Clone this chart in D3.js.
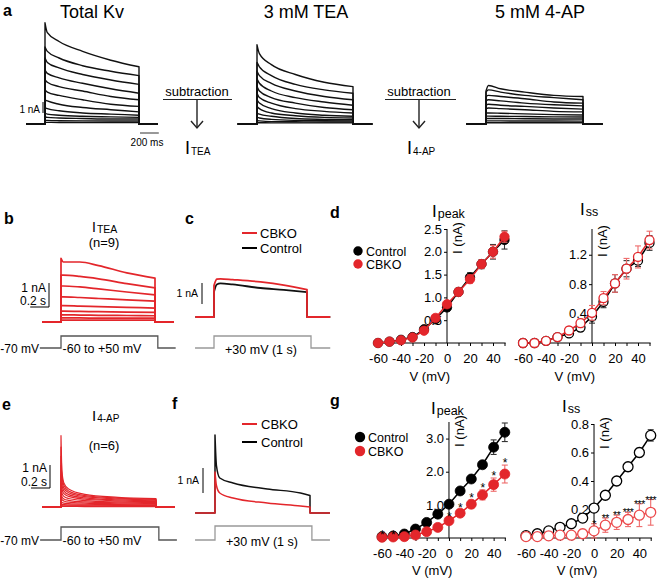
<!DOCTYPE html>
<html>
<head>
<meta charset="utf-8">
<script src="https://cdn.jsdelivr.net/npm/d3@7"></script>
<style>
  body { margin: 0; background: #fff; }
  svg { font-family: "Liberation Sans", Arial, sans-serif; }
</style>
</head>
<body>
<script>
// ---- data ----

// step potentials for the I-V curves (mV)
const voltages = [-60, -50, -40, -30, -20, -10, 0, 10, 20, 30, 40, 50];

// d: I_TEA
const dPeakCtrl = [0.0, 0.03, 0.07, 0.13, 0.30, 0.52, 0.78, 1.12, 1.44, 1.73, 2.0, 2.26];
const dPeakCtrlErr = [0.01, 0.01, 0.02, 0.03, 0.06, 0.06, 0.08, 0.08, 0.1, 0.1, 0.16, 0.2];
const dPeakCbko = [0.0, 0.03, 0.06, 0.12, 0.27, 0.55, 0.85, 1.12, 1.40, 1.73, 2.0, 2.33];
const dPeakCbkoErr = [0.01, 0.01, 0.02, 0.03, 0.06, 0.05, 0.07, 0.08, 0.09, 0.09, 0.14, 0.12];
const dSsCtrl = [0.0, 0.0, 0.03, 0.08, 0.13, 0.21, 0.36, 0.56, 0.81, 1.01, 1.12, 1.36];
const dSsCtrlErr = [0.01, 0.01, 0.01, 0.02, 0.04, 0.05, 0.09, 0.08, 0.12, 0.11, 0.08, 0.1];
const dSsCbko = [0.0, 0.0, 0.03, 0.08, 0.17, 0.27, 0.41, 0.61, 0.81, 1.01, 1.17, 1.40];
const dSsCbkoErr = [0.01, 0.01, 0.01, 0.02, 0.05, 0.06, 0.1, 0.09, 0.12, 0.14, 0.15, 0.12];

// g: I_4-AP
const gPeakCtrl = [0.04, 0.06, 0.12, 0.27, 0.47, 0.72, 1.02, 1.42, 1.78, 2.21, 2.74, 3.19];
const gPeakCtrlErr = [0.02, 0.02, 0.03, 0.04, 0.05, 0.05, 0.06, 0.06, 0.06, 0.07, 0.22, 0.28];
const gPeakCbko = [0.02, 0.03, 0.04, 0.09, 0.19, 0.32, 0.52, 0.75, 1.02, 1.30, 1.61, 1.93];
const gPeakCbkoErr = [0.01, 0.01, 0.02, 0.03, 0.04, 0.05, 0.06, 0.08, 0.12, 0.15, 0.2, 0.27];
const gPeakSig = ["*", "*", "", "", "", "", "*", "*", "*", "*", "*", "*"];
const gSsCtrl = [0.016, 0.03, 0.05, 0.075, 0.10, 0.14, 0.21, 0.30, 0.40, 0.50, 0.60, 0.72];
const gSsCtrlErr = [0.005, 0.005, 0.01, 0.01, 0.02, 0.03, 0.02, 0.02, 0.02, 0.03, 0.03, 0.04];
const gSsCbko = [0.01, 0.01, 0.015, 0.02, 0.02, 0.03, 0.05, 0.09, 0.11, 0.13, 0.16, 0.18];
const gSsCbkoErr = [0.005, 0.005, 0.005, 0.01, 0.02, 0.03, 0.05, 0.05, 0.05, 0.05, 0.08, 0.09];
const gSsSig = ["", "", "", "", "", "", "*", "**", "**", "***", "***", "***"];

// a: current traces (nA) sampled at these times (ms) of the 1 s step
const aTimes = [0, 25, 150, 400, 700, 1000];
const totalKv = [
  [9.2, 8.3, 7.5, 6.6, 5.8, 5.2],
  [7.0, 6.6, 6.0, 5.3, 4.8, 4.4],
  [6.0, 5.6, 5.1, 4.5, 4.0, 3.6],
  [4.9, 4.6, 4.2, 3.7, 3.2, 2.8],
  [4.0, 3.8, 3.4, 3.0, 2.5, 2.2],
  [3.1, 2.9, 2.6, 2.2, 1.8, 1.6],
  [2.2, 2.1, 1.8, 1.5, 1.3, 1.1],
  [1.5, 1.4, 1.2, 1.0, 0.9, 0.8],
  [1.0, 0.9, 0.8, 0.7, 0.65, 0.6],
  [0.65, 0.6, 0.55, 0.5, 0.45, 0.45],
  [0.35, 0.33, 0.3, 0.28, 0.27, 0.27],
  [0.15, 0.15, 0.14, 0.13, 0.13, 0.13]
];
const teaKv = [
  [7.2, 6.4, 5.4, 4.5, 3.8, 3.4],
  [5.6, 5.2, 4.4, 3.6, 3.1, 2.8],
  [4.8, 4.4, 3.7, 3.0, 2.5, 2.2],
  [4.1, 3.7, 3.0, 2.4, 2.0, 1.7],
  [3.4, 3.0, 2.4, 1.9, 1.5, 1.3],
  [2.8, 2.4, 1.9, 1.4, 1.15, 1.0],
  [2.2, 1.9, 1.4, 1.0, 0.8, 0.7],
  [1.6, 1.4, 1.0, 0.75, 0.6, 0.55],
  [1.0, 0.9, 0.7, 0.5, 0.42, 0.38],
  [0.6, 0.55, 0.42, 0.33, 0.3, 0.28],
  [0.3, 0.28, 0.22, 0.2, 0.18, 0.18],
  [0.12, 0.12, 0.1, 0.1, 0.1, 0.1]
];
const apKv = [
  [3.0, 3.5, 3.2, 2.9, 2.6, 2.5],
  [2.9, 3.1, 2.9, 2.6, 2.4, 2.2],
  [2.5, 2.6, 2.5, 2.3, 2.0, 1.9],
  [2.1, 2.2, 2.1, 1.9, 1.75, 1.65],
  [1.75, 1.8, 1.7, 1.6, 1.45, 1.35],
  [1.4, 1.45, 1.4, 1.3, 1.15, 1.1],
  [1.0, 1.0, 0.98, 0.92, 0.85, 0.82],
  [0.72, 0.72, 0.7, 0.68, 0.65, 0.63],
  [0.5, 0.5, 0.5, 0.48, 0.46, 0.45],
  [0.28, 0.28, 0.28, 0.27, 0.27, 0.26],
  [0.12, 0.12, 0.12, 0.12, 0.12, 0.12]
];

// b: I_TEA family
const bTimes = [0, 25, 200, 400, 700, 1000];
const iTea = [
  [2.65, 2.5, 2.5, 2.35, 2.05, 1.83],
  [1.95, 1.95, 1.9, 1.8, 1.6, 1.42],
  [1.5, 1.5, 1.46, 1.38, 1.25, 1.13],
  [1.05, 1.05, 1.02, 0.98, 0.92, 0.87],
  [0.68, 0.68, 0.66, 0.64, 0.61, 0.58],
  [0.45, 0.45, 0.44, 0.43, 0.41, 0.4],
  [0.3, 0.3, 0.29, 0.28, 0.27, 0.26],
  [0.17, 0.17, 0.17, 0.16, 0.16, 0.16],
  [0.08, 0.08, 0.08, 0.08, 0.08, 0.08]
];

// c: I_TEA at +30 mV
const cTimes = [0, 30, 70, 200, 500, 750, 1000];
const cCbko = [1.5, 1.8, 1.82, 1.78, 1.67, 1.52, 1.3];
const cCtrl = [1.2, 1.55, 1.6, 1.55, 1.38, 1.29, 1.18];

// e: I_4-AP family
const eTimes = [0, 10, 30, 80, 250, 600, 1000];
const iAp = [
  [3.1, 1.55, 1.05, 0.78, 0.55, 0.42, 0.36],
  [2.6, 1.35, 0.95, 0.7, 0.5, 0.39, 0.33],
  [2.2, 1.15, 0.82, 0.62, 0.45, 0.35, 0.3],
  [1.8, 0.95, 0.7, 0.54, 0.4, 0.31, 0.27],
  [1.4, 0.78, 0.58, 0.46, 0.34, 0.27, 0.23],
  [1.0, 0.6, 0.46, 0.37, 0.28, 0.22, 0.19],
  [0.7, 0.45, 0.35, 0.29, 0.22, 0.18, 0.15],
  [0.45, 0.32, 0.26, 0.21, 0.17, 0.14, 0.12],
  [0.27, 0.2, 0.17, 0.15, 0.12, 0.1, 0.09],
  [0.14, 0.11, 0.1, 0.09, 0.08, 0.07, 0.06],
  [0.07, 0.06, 0.05, 0.05, 0.045, 0.04, 0.04],
  [0.03, 0.03, 0.03, 0.03, 0.02, 0.02, 0.02]
];

// f: I_4-AP at +30 mV
const fTimes = [0, 15, 50, 190, 550, 900, 1000];
const fCtrl = [3.12, 1.9, 1.4, 1.2, 0.96, 0.8, 0.7];
const fCbko = [1.64, 1.1, 0.8, 0.6, 0.4, 0.28, 0.24];

const xTickVals = [-60, -50, -40, -30, -20, -10, 0, 10, 20, 30, 40, 50];

// ---- drawing ----
const red = "#e3262b";
const redErr = "#ee6a6a";

const svg = d3.select("body").append("svg")
  .attr("width", 658).attr("height", 578);

function txt(x, y, s, size, anchor, weight) {
  return svg.append("text")
    .attr("x", x).attr("y", y)
    .attr("font-size", size)
    .attr("text-anchor", anchor || "start")
    .attr("font-weight", weight || "normal")
    .text(s);
}

function sub(x, y, main, subtxt, size, subSize) {
  const t = svg.append("text").attr("x", x).attr("y", y).attr("font-size", size);
  t.append("tspan").text(main);
  t.append("tspan").attr("font-size", subSize).attr("dx", 1).attr("dy", 1).text(subtxt);
}

// one sweep: flat baseline, jump at t=0, sampled current, drop at the end, baseline
function tracePath(x, y, times, vals, pre, post) {
  const lin = d3.line().x(d => x(d[0])).y(d => y(d[1]));
  const cur = d3.line().x(d => x(d[0])).y(d => y(d[1])).curve(d3.curveMonotoneX);
  const tEnd = times[times.length - 1];
  const mid = times.map((t, i) => [t, vals[i]]);
  return lin([[pre, 0], [0, 0]]) +
    cur(mid).replace(/^M/, "L") +
    lin([[tEnd, 0], [post, 0]]).replace(/^M/, "L");
}

function drawTraces(traces, times, x, y, color, width, pre, post) {
  svg.append("g").selectAll("path")
    .data(traces)
    .enter()
    .append("path")
    .attr("d", d => tracePath(x, y, times, d, pre || -200, post || 1200))
    .attr("fill", "none")
    .attr("stroke", color)
    .attr("stroke-width", width)
    .attr("stroke-linejoin", "round");
}

function protocol(x, yv, stepV, tEnd, pre, post, color) {
  const pts = [[pre, -70], [0, -70], [0, stepV], [tEnd, stepV], [tEnd, -70], [post, -70]];
  svg.append("path")
    .attr("d", d3.line().x(d => x(d[0])).y(d => yv(d[1]))(pts))
    .attr("fill", "none").attr("stroke", color).attr("stroke-width", 1.3);
}

function vbar(x, y1, y2) {
  svg.append("line").attr("x1", x).attr("x2", x).attr("y1", y1).attr("y2", y2)
    .attr("stroke", "#000").attr("stroke-width", 1);
}
function hbar(x1, x2, y, color, w) {
  svg.append("line").attr("x1", x1).attr("x2", x2).attr("y1", y).attr("y2", y)
    .attr("stroke", color || "#000").attr("stroke-width", w || 1);
}

// ---------- panel a ----------
txt(3, 16, "a", 16, "start", "bold");
txt(92, 18, "Total Kv", 18, "middle");
txt(306, 18, "3 mM TEA", 18, "middle");
txt(540, 18, "5 mM 4-AP", 18, "middle");

const ya = d3.scaleLinear().domain([0, 1]).range([124, 113]);
const xKv = d3.scaleLinear().domain([0, 1000]).range([45, 139]);
const xTea = d3.scaleLinear().domain([0, 1000]).range([257, 353]);
const xAp = d3.scaleLinear().domain([0, 1000]).range([486, 583]);
drawTraces(totalKv, aTimes, xKv, ya, "#111", 1.4);
drawTraces(teaKv, aTimes, xTea, ya, "#111", 1.4);
drawTraces(apKv, aTimes, xAp, ya, "#111", 1.4);

// scale bars
vbar(43, 113, 113 - (ya(0) - ya(1)));
txt(40, 113, "1 nA", 10, "end");
hbar(xKv(1000) + 1, xKv(1000) + 1 + (xKv(200) - xKv(0)), 133, "#333");
txt(147, 146, "200 ms", 10, "middle");

// subtraction arrows
function subtraction(cx, x1, x2, label) {
  txt(cx, 96, "subtraction", 13, "middle");
  hbar(x1, x2, 99.5, "#222");
  svg.append("line").attr("x1", cx).attr("x2", cx).attr("y1", 99.5).attr("y2", 128)
    .attr("stroke", "#222").attr("stroke-width", 1.4);
  svg.append("path").attr("d", `M${cx - 6},121 L${cx},128 L${cx + 6},121`)
    .attr("fill", "none").attr("stroke", "#222").attr("stroke-width", 1.4);
  sub(cx - 12, 154, "I", label, 18, 10);
}
subtraction(197, 163, 232, "TEA");
subtraction(419, 385, 456, "4-AP");

// ---------- panel b ----------
txt(4, 224, "b", 16, "start", "bold");
sub(92, 232, "I", "TEA", 14, 10.5);
txt(104, 247, "(n=9)", 13, "middle");
const yb = d3.scaleLinear().domain([0, 1]).range([322, 298]);
const xb = d3.scaleLinear().domain([0, 1000]).range([61, 155]);
drawTraces(iTea, bTimes, xb, yb, red, 1.7);
vbar(49, 307, 307 - (yb(0) - yb(1)));
hbar(49 - (xb(200) - xb(0)), 49, 307);
txt(46, 292, "1 nA", 12, "end");
txt(46, 305, "0.2 s", 12, "end");
const vb = d3.scaleLinear().domain([-70, 30]).range([348, 336]);
protocol(xb, vb, 30, 1030, -225, 1220, "#555");
txt(39, 353, "-70 mV", 12, "end");
txt(102, 353, "-60 to +50 mV", 12.5, "middle");

// ---------- panel c ----------
txt(185, 224, "c", 16, "start", "bold");
hbar(242, 257, 233, red, 2);
txt(260, 238, "CBKO", 13);
hbar(242, 257, 248, "#000", 2);
txt(260, 253, "Control", 13);
const yc = d3.scaleLinear().domain([0, 1]).range([317, 296]);
const xc = d3.scaleLinear().domain([0, 1000]).range([214, 307]);
drawTraces([cCtrl], cTimes, xc, yc, "#111", 1.8, -200, 1250);
drawTraces([cCbko], cTimes, xc, yc, red, 1.8, -200, 1250);
vbar(202, 304, 304 - (yc(0) - yc(1)));
txt(198, 297, "1 nA", 10.5, "end");
const vc = d3.scaleLinear().domain([-70, 30]).range([348, 336]);
protocol(xc, vc, 30, 1043, -204, 1250, "#999");
txt(261, 354, "+30 mV (1 s)", 12.5, "middle");

// ---------- panel e ----------
txt(2, 410, "e", 16, "start", "bold");
sub(92, 421, "I", "4-AP", 15, 10);
txt(104, 450, "(n=6)", 13, "middle");
const ye = d3.scaleLinear().domain([0, 1]).range([507, 484]);
const xe = d3.scaleLinear().domain([0, 1000]).range([61, 156]);
drawTraces(iAp, eTimes, xe, ye, red, 1.2);
vbar(50, 488, 488 - (ye(0) - ye(1)));
hbar(50 - (xe(200) - xe(0)), 50, 488);
txt(47, 472, "1 nA", 12, "end");
txt(47, 486, "0.2 s", 12, "end");
const ve = d3.scaleLinear().domain([-70, 30]).range([540, 527]);
protocol(xe, ve, 30, 1030, -220, 1220, "#555");
txt(39, 545, "-70 mV", 12, "end");
txt(102, 545, "-60 to +50 mV", 12.5, "middle");

// ---------- panel f ----------
txt(172, 409, "f", 16, "start", "bold");
hbar(242, 257, 424, red, 2);
txt(261, 429, "CBKO", 13);
hbar(242, 257, 442, "#000", 2);
txt(261, 447, "Control", 13);
const yf = d3.scaleLinear().domain([0, 1]).range([513, 488]);
const xf = d3.scaleLinear().domain([0, 1000]).range([215, 310]);
drawTraces([fCtrl], fTimes, xf, yf, "#111", 1.5, -210, 1210);
drawTraces([fCbko], fTimes, xf, yf, red, 1.5, -210, 1210);
vbar(203, 493, 493 - (yf(0) - yf(1)));
txt(199, 484, "1 nA", 10.5, "end");
const vf = d3.scaleLinear().domain([-70, 30]).range([540, 526]);
protocol(xf, vf, 30, 1020, -210, 1210, "#999");
txt(262, 546, "+30 mV (1 s)", 12.5, "middle");

// ---------- I-V plots ----------
function ivPlot(o) {
  const x = d3.scaleLinear().domain([-60, 50]).range(o.xr);
  const y = d3.scaleLinear().domain([0, o.yMax]).range(o.yr);
  const g = svg.append("g");

  const xAx = d3.axisBottom(x).tickValues(xTickVals).tickSize(3).tickPadding(8)
    .tickFormat(d => d % 20 === 0 ? String(d) : "");
  const gx = g.append("g").attr("transform", `translate(0,${y(0)})`).call(xAx);
  gx.select(".domain").attr("d", `M${x(-62)},0H${x(51)}`);

  const yAx = d3.axisLeft(y).tickValues(o.yTicks).tickSize(3).tickPadding(2)
    .tickFormat(d3.format(".1f"));
  const gy = g.append("g").attr("transform", `translate(${x(0)},0)`).call(yAx);
  gy.select(".domain").attr("d", `M0,${y(0)}V${y(o.yMax)}`);

  [gx, gy].forEach(a => {
    a.selectAll("text").attr("font-size", 13).attr("font-family", "Liberation Sans, Arial, sans-serif").attr("fill", "#000");
    a.selectAll("line,path").attr("stroke", "#000");
  });

  // axis titles
  g.append("text").attr("transform", `translate(${x(0) + 15},${o.yLabY}) rotate(-90)`)
    .attr("text-anchor", "middle").attr("font-size", 13).text("I (nA)");
  g.append("text").attr("x", x(-15)).attr("y", o.xLabY)
    .attr("text-anchor", "middle").attr("font-size", 13).text("V (mV)");

  o.series.forEach(s => {
    const pts = voltages.map((v, i) => ({ v, m: s.mean[i], e: s.err[i] }));
    g.append("path")
      .attr("d", d3.line().x(d => x(d.v)).y(d => y(d.m))(pts))
      .attr("fill", "none").attr("stroke", s.color).attr("stroke-width", 1.5);
    const eb = g.append("g").attr("stroke", s.errColor).attr("stroke-width", 1.1);
    pts.forEach(d => {
      eb.append("line").attr("x1", x(d.v)).attr("x2", x(d.v))
        .attr("y1", y(d.m - d.e)).attr("y2", y(d.m + d.e));
      [d.m - d.e, d.m + d.e].forEach(c => {
        eb.append("line").attr("x1", x(d.v) - 3).attr("x2", x(d.v) + 3)
          .attr("y1", y(c)).attr("y2", y(c));
      });
    });
    g.append("g").selectAll("circle").data(pts).enter().append("circle")
      .attr("cx", d => x(d.v)).attr("cy", d => y(d.m)).attr("r", o.r)
      .attr("fill", s.open ? "#fff" : s.color)
      .attr("stroke", s.color).attr("stroke-width", s.open ? 1.3 : 0.8);
  });

  if (o.sig) {
    const s = o.series[1];
    voltages.forEach((v, i) => {
      if (!o.sig[i]) return;
      g.append("text").attr("x", x(v)).attr("y", y(s.mean[i] + s.err[i]) + o.sigDy)
        .attr("text-anchor", "middle").attr("font-size", o.sigSize)
        .attr("letter-spacing", -0.5).text(o.sig[i]);
    });
  }
}

function legend(x, y1, y2, r) {
  svg.append("circle").attr("cx", x).attr("cy", y1).attr("r", r).attr("fill", "#000");
  txt(x + 8, y1 + 4.5, "Control", 12.5);
  svg.append("circle").attr("cx", x).attr("cy", y2).attr("r", r).attr("fill", red);
  txt(x + 8, y2 + 4.5, "CBKO", 12.5);
}

// panel d
txt(330, 218, "d", 16, "start", "bold");
sub(432, 217, "I", "peak", 17, 12.5);
sub(580, 215, "I", "ss", 17, 12.5);
legend(358, 251, 264, 4.7);
ivPlot({
  xr: [378, 504.5], yr: [343, 229], yMax: 2.5, yTicks: [0.5, 1.0, 1.5, 2.0, 2.5],
  yLabY: 238, xLabY: 381, r: 4.7,
  series: [
    { mean: dPeakCtrl, err: dPeakCtrlErr, color: "#000", errColor: "#333" },
    { mean: dPeakCbko, err: dPeakCbkoErr, color: red, errColor: redErr }
  ]
});
ivPlot({
  xr: [523, 649.5], yr: [343, 229], yMax: 1.55, yTicks: [0.4, 0.8, 1.2],
  yLabY: 241, xLabY: 381, r: 4.5,
  series: [
    { mean: dSsCtrl, err: dSsCtrlErr, color: "#000", errColor: "#333", open: true },
    { mean: dSsCbko, err: dSsCbkoErr, color: red, errColor: redErr, open: true }
  ]
});

// panel g
txt(330, 406, "g", 16, "start", "bold");
sub(431, 414, "I", "peak", 17, 12.5);
sub(562, 412, "I", "ss", 17, 12.5);
legend(360, 437, 451, 5.2);
ivPlot({
  xr: [382, 504.8], yr: [538, 422], yMax: 3.5, yTicks: [1.0, 2.0, 3.0],
  yLabY: 431, xLabY: 575, r: 5,
  sig: gPeakSig, sigDy: 2, sigSize: 12,
  series: [
    { mean: gPeakCtrl, err: gPeakCtrlErr, color: "#000", errColor: "#333" },
    { mean: gPeakCbko, err: gPeakCbkoErr, color: red, errColor: redErr }
  ]
});
ivPlot({
  xr: [526, 650.7], yr: [538, 424], yMax: 0.8, yTicks: [0.2, 0.4, 0.6, 0.8],
  yLabY: 433, xLabY: 575, r: 5,
  sig: gSsSig, sigDy: 4, sigSize: 10.5,
  series: [
    { mean: gSsCtrl, err: gSsCtrlErr, color: "#000", errColor: "#333", open: true },
    { mean: gSsCbko, err: gSsCbkoErr, color: "#ec4a4c", errColor: redErr, open: true }
  ]
});
</script>
</body>
</html>
